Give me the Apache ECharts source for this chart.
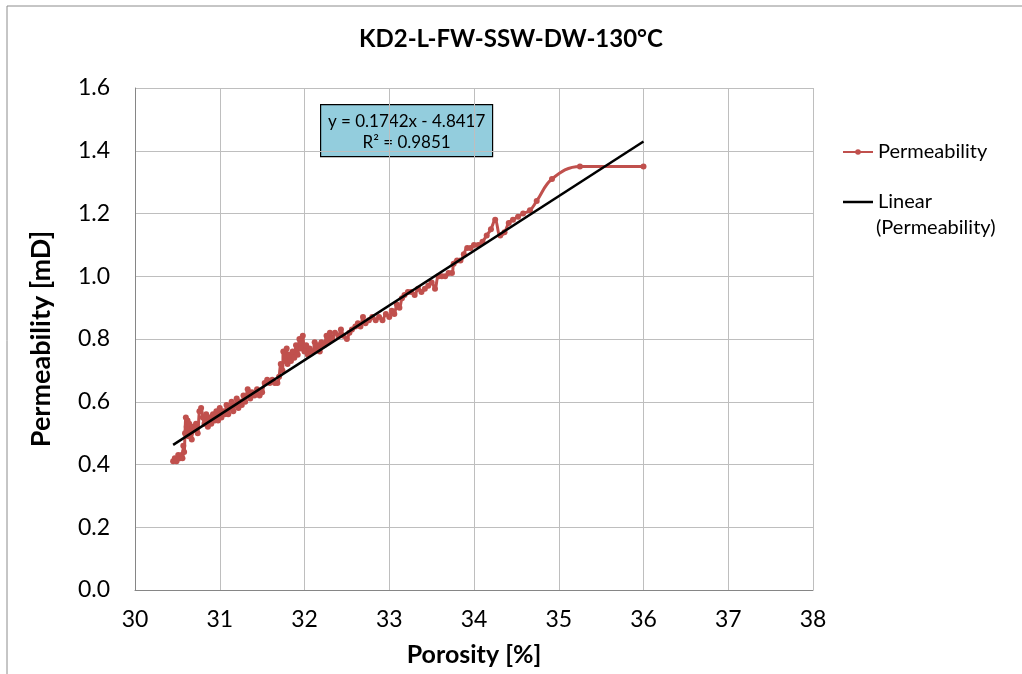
<!DOCTYPE html>
<html><head><meta charset="utf-8">
<script src="https://cdn.jsdelivr.net/npm/echarts@6/dist/echarts.min.js"></script>
<style>html,body{margin:0;padding:0;background:#fff}#c{width:1022px;height:674px}</style>
</head><body><div id="c"></div>
<script>
const titleText = "KD2-L-FW-SSW-DW-130°C";
const xName = "Porosity [%]";
const yName = "Permeability [mD]";
const seriesName = "Permeability";
const trendName = "Linear (Permeability)";
const slope = 0.1742, intercept = -4.8417, r2 = 0.9851;
const porosity = [30.45,30.47,30.49,30.51,30.53,30.55,30.56,30.57,30.58,30.59,30.60,30.61,30.62,30.63,30.64,30.66,30.67,30.68,30.70,30.72,30.74,30.76,30.78,30.80,30.82,30.84,30.86,30.88,30.90,30.92,30.94,30.96,30.98,31.00,31.02,31.04,31.06,31.08,31.10,31.12,31.14,31.16,31.18,31.20,31.22,31.24,31.26,31.28,31.30,31.33,31.36,31.38,31.41,31.44,31.47,31.50,31.53,31.56,31.59,31.62,31.65,31.68,31.70,31.72,31.74,31.75,31.77,31.79,31.80,31.82,31.84,31.86,31.88,31.90,31.92,31.94,31.96,31.98,32.00,32.02,32.04,32.06,32.08,32.10,32.12,32.14,32.16,32.18,32.20,32.23,32.26,32.28,32.30,32.33,32.36,32.40,32.43,32.46,32.50,32.53,32.56,32.60,32.63,32.66,32.69,32.72,32.76,32.80,32.84,32.88,32.92,32.96,33.00,33.03,33.06,33.09,33.12,33.15,33.18,33.22,33.26,33.30,33.34,33.38,33.42,33.46,33.50,33.54,33.58,33.62,33.66,33.70,33.74,33.76,33.80,33.84,33.88,33.92,33.96,34.00,34.05,34.10,34.15,34.20,34.25,34.31,34.36,34.41,34.46,34.52,34.58,34.66,34.74,34.92,35.25,36.00];
const permeability = [0.41,0.42,0.41,0.43,0.42,0.43,0.42,0.46,0.44,0.50,0.55,0.52,0.54,0.49,0.53,0.50,0.48,0.52,0.51,0.53,0.50,0.57,0.58,0.55,0.53,0.56,0.52,0.55,0.53,0.56,0.54,0.57,0.54,0.58,0.55,0.57,0.56,0.59,0.56,0.58,0.60,0.57,0.59,0.61,0.58,0.60,0.59,0.62,0.60,0.64,0.61,0.63,0.62,0.64,0.62,0.63,0.66,0.67,0.66,0.67,0.66,0.66,0.68,0.72,0.70,0.76,0.73,0.77,0.72,0.75,0.73,0.76,0.74,0.78,0.75,0.80,0.77,0.81,0.76,0.78,0.75,0.77,0.76,0.76,0.79,0.77,0.78,0.76,0.79,0.78,0.81,0.79,0.82,0.80,0.82,0.81,0.83,0.81,0.80,0.82,0.83,0.84,0.85,0.84,0.87,0.85,0.86,0.87,0.86,0.87,0.86,0.88,0.87,0.89,0.88,0.91,0.90,0.93,0.94,0.95,0.95,0.94,0.96,0.95,0.96,0.97,0.98,0.96,1.00,1.00,1.00,1.01,1.01,1.04,1.05,1.05,1.07,1.09,1.09,1.10,1.10,1.11,1.13,1.15,1.18,1.13,1.14,1.17,1.18,1.19,1.20,1.21,1.24,1.31,1.35,1.35];
const xTicks = {min:30, max:38, interval:1};
const yTicks = {min:0, max:1.6, interval:0.2};

const pts = porosity.map((x,i)=>[x, permeability[i]]);
const xMin = Math.min(...porosity), xMax = Math.max(...porosity);
const trend = [[xMin, slope*xMin+intercept],[xMax, slope*xMax+intercept]];
const FONT = 'Lato';
const chart = echarts.init(document.getElementById('c'));
chart.setOption({
  animation:false,
  backgroundColor:'#fff',
  title:{text:titleText,left:'center',top:22,textStyle:{fontFamily:FONT,fontSize:24,fontWeight:'bold',color:'#000'}},
  grid:{left:135,right:209,top:88,bottom:84,show:false},
  xAxis:{type:'value',min:xTicks.min,max:xTicks.max,interval:xTicks.interval,
    name:xName,nameLocation:'middle',nameGap:52,
    nameTextStyle:{fontFamily:FONT,fontSize:25,fontWeight:'bold',color:'#000'},
    axisLine:{show:true,lineStyle:{color:'#868686'}},axisTick:{show:false},
    axisLabel:{fontFamily:FONT,fontSize:23,color:'#000',margin:18},
    splitLine:{show:true,lineStyle:{color:'#BEBEBE',width:1}}},
  yAxis:{type:'value',min:yTicks.min,max:yTicks.max,interval:yTicks.interval,
    name:yName,nameLocation:'middle',nameGap:80,
    nameTextStyle:{fontFamily:FONT,fontSize:27,fontWeight:'bold',color:'#000'},
    axisLine:{show:true,lineStyle:{color:'#868686'}},axisTick:{show:false},
    axisLabel:{fontFamily:FONT,fontSize:23,color:'#000',margin:25,formatter:v=>v.toFixed(1)},
    splitLine:{show:true,lineStyle:{color:'#BEBEBE',width:1}}},
  legend:{orient:'vertical',left:842,top:142,padding:0,itemGap:30,itemWidth:30,itemHeight:7,
    textStyle:{fontFamily:FONT,fontSize:20,color:'#000'},
    formatter:n=>n===trendName?'Linear':n,
    data:[{name:seriesName},{name:trendName,icon:'path://M0,0L30,0L30,2.5L0,2.5Z'}]},
  series:[
    {name:seriesName,type:'line',data:pts,smooth:0.4,symbol:'circle',symbolSize:6,showSymbol:true,
     lineStyle:{color:'#C0504D',width:3},itemStyle:{color:'#C0504D'},z:2},
    {name:trendName,type:'line',data:trend,symbol:'none',
     lineStyle:{color:'#000',width:2.5},itemStyle:{color:'#000'},z:3}
  ],
  graphic:[
    {type:'rect',shape:{x:7,y:6,width:1100,height:1000},style:{fill:'none',stroke:'#8c8c8c',lineWidth:1},silent:true,z:-1},
    {type:'text',left:876,top:218,style:{text:'(Permeability)',fontFamily:FONT,fontSize:20,fill:'#000'}},
    {type:'group',left:320,top:104,children:[
      {type:'rect',shape:{x:0,y:0,width:172,height:52},style:{fill:'#93CDDD',stroke:'#000',lineWidth:1.2}},
      {type:'text',x:86,y:6,style:{text:'y = '+slope+'x - '+Math.abs(intercept)+'\nR² = '+r2,align:'center',fontFamily:FONT,fontSize:17,lineHeight:21,fill:'#000'}}
    ]}
  ]
});
</script></body></html>
